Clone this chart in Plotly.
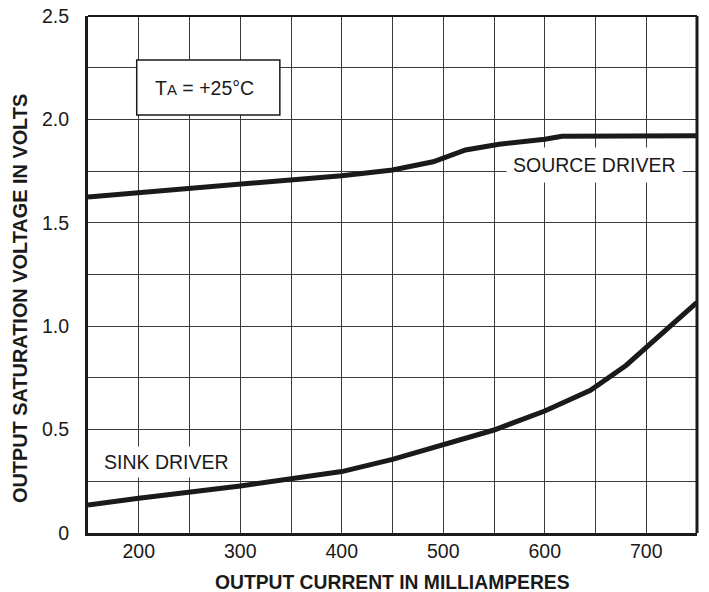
import plotly.graph_objects as go

# Data
source_current = [150, 250, 358, 400, 450, 490, 522, 555, 600, 617, 750]
source_voltage = [1.625, 1.665, 1.707, 1.728, 1.755, 1.795, 1.852, 1.880, 1.904, 1.918, 1.921]

sink_current = [150, 200, 300, 400, 450, 500, 550, 600, 645, 680, 715, 750]
sink_voltage = [0.135, 0.168, 0.227, 0.297, 0.356, 0.429, 0.498, 0.590, 0.690, 0.810, 0.960, 1.115]

x_ticks = [200, 300, 400, 500, 600, 700]
y_ticks = [0, 0.5, 1.0, 1.5, 2.0, 2.5]
y_tick_labels = ["0", "0.5", "1.0", "1.5", "2.0", "2.5"]

FONT = "Liberation Sans, Arial, sans-serif"
INK = "#1a1a1a"
GRID = "#3a3a3a"
FS = 19.5

W, H = 709, 592
L, R, T, B = 88, 12, 16, 59
plot_w = W - L - R
plot_h = H - T - B
plot_bottom = H - B

fig = go.Figure()
fig.add_trace(go.Scatter(x=source_current, y=source_voltage, mode="lines",
                         line=dict(color=INK, width=5), name="SOURCE DRIVER",
                         showlegend=False))
fig.add_trace(go.Scatter(x=sink_current, y=sink_voltage, mode="lines",
                         line=dict(color=INK, width=5), name="SINK DRIVER",
                         showlegend=False))

fig.update_layout(
    width=W, height=H,
    margin=dict(l=L, r=R, t=T, b=B, autoexpand=False),
    paper_bgcolor="white", plot_bgcolor="white",
    font=dict(family=FONT, color=INK, size=FS),
    xaxis=dict(range=[150, 750], tickvals=x_ticks, ticks="", showgrid=True, automargin=False,
               gridcolor=GRID, gridwidth=1.3, zeroline=False, ticklabeloverflow="allow",
               minor=dict(dtick=50, tick0=150, showgrid=True, gridcolor=GRID, gridwidth=1.3),
               showline=True, linecolor=INK, linewidth=3,
               tickfont=dict(size=FS, family=FONT, color=INK), ticklabelstandoff=-1),
    yaxis=dict(range=[0, 2.5], tickvals=y_ticks, ticktext=y_tick_labels, ticks="", automargin=False,
               showgrid=True, gridcolor=GRID, gridwidth=1.3, zeroline=False, ticklabeloverflow="allow",
               minor=dict(dtick=0.25, tick0=0, showgrid=True, gridcolor=GRID, gridwidth=1.3),
               showline=True, linecolor=INK, linewidth=3,
               tickfont=dict(size=FS, family=FONT, color=INK), ticklabelstandoff=12),
    shapes=[
        dict(type="line", xref="paper", yref="paper", x0=0, x1=1, y0=1, y1=1,
             line=dict(color=INK, width=2.2)),
        dict(type="line", xref="paper", yref="paper", x0=1, x1=1, y0=0, y1=1,
             line=dict(color=INK, width=3)),
        dict(type="rect", xref="x", yref="y", x0=198, x1=339, y0=2.021, y1=2.287,
             fillcolor="white", line=dict(color=INK, width=1.5), layer="above"),
    ],
    annotations=[
        dict(x=265, y=2.154, xref="x", yref="y", showarrow=False,
             text="T<span style='font-size:15px'>A</span> = +25°C",
             font=dict(size=FS, family=FONT, color=INK)),
        dict(x=649.5, y=1.78, xref="x", yref="y", showarrow=False,
             text="SOURCE DRIVER", bgcolor="white", borderpad=6,
             font=dict(size=FS, family=FONT, color=INK)),
        dict(x=227.7, y=0.343, xref="x", yref="y", showarrow=False,
             text="SINK DRIVER", bgcolor="white", borderpad=4,
             font=dict(size=FS, family=FONT, color=INK)),
        dict(x=0.5, y=-(582.5 - plot_bottom) / plot_h, xref="paper", yref="paper",
             xanchor="center", yanchor="middle", showarrow=False,
             text="<b>OUTPUT CURRENT IN MILLIAMPERES</b>",
             font=dict(size=19.3, family=FONT, color=INK)),
        dict(x=-(88 - 20) / plot_w, y=(plot_bottom - 299) / plot_h,
             xref="paper", yref="paper",
             xanchor="center", yanchor="middle", showarrow=False,
             text="<b>OUTPUT SATURATION VOLTAGE IN VOLTS</b>", textangle=-90,
             font=dict(size=19.9, family=FONT, color=INK)),
    ],
)

fig.write_html("out.html", config={"displayModeBar": False},
               post_script="document.body.style.margin='0px';document.body.style.overflow='hidden';")
